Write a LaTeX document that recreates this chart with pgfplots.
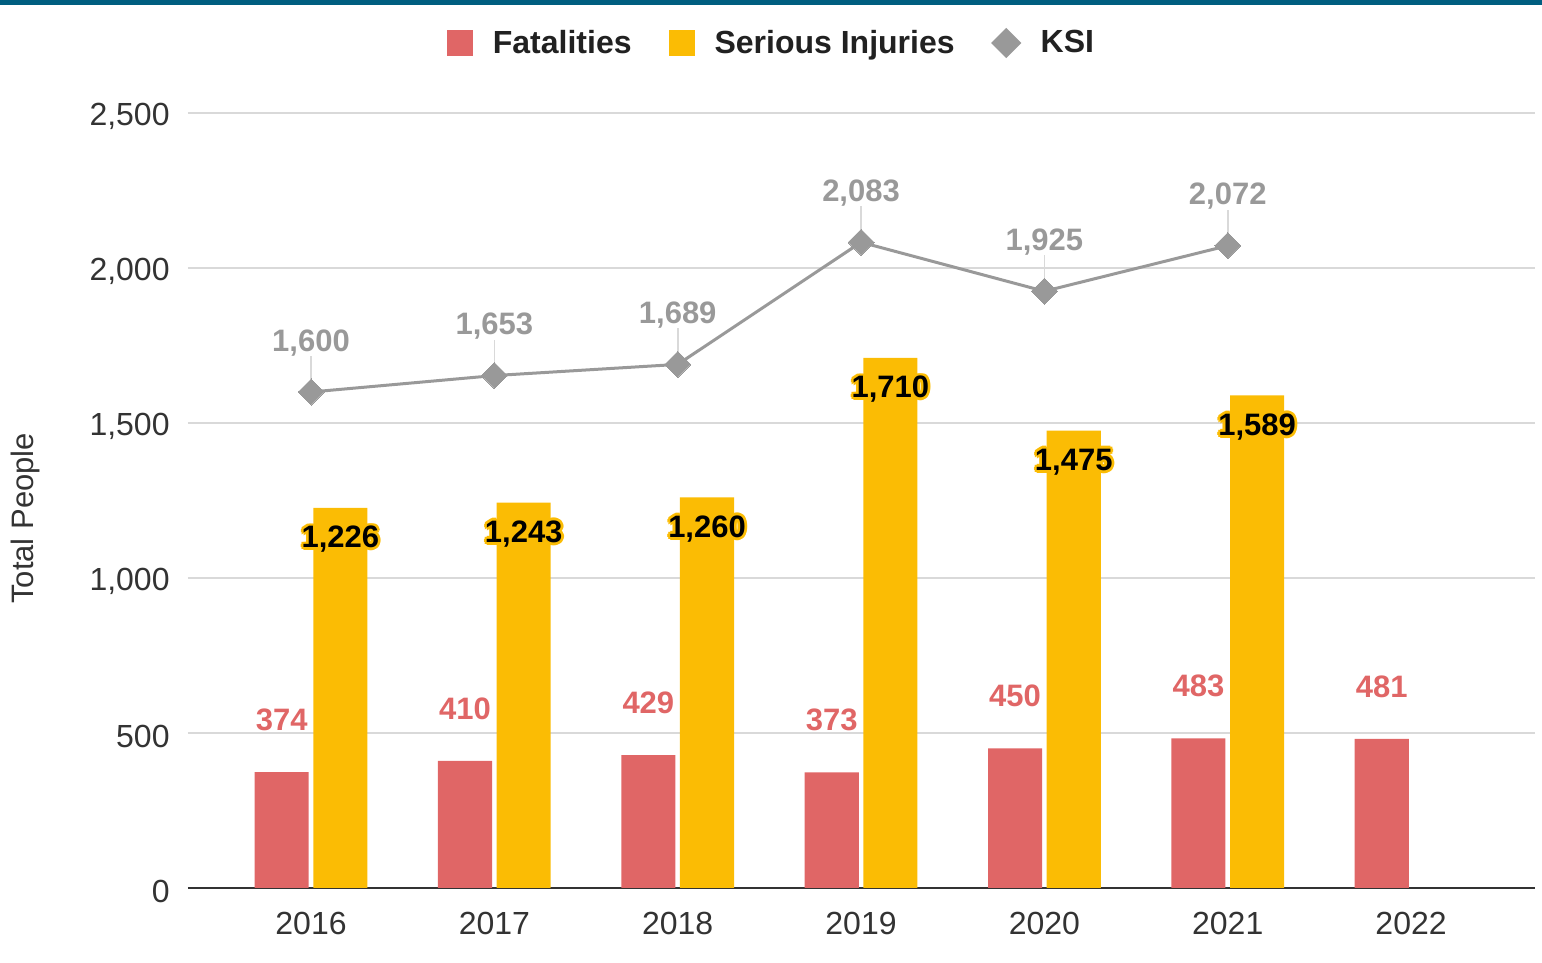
\documentclass[border=0pt]{standalone}
\usepackage{fontspec}
\setmainfont{Liberation Sans}
\usepackage{pgfplots}
\pgfplotsset{compat=1.18}
\definecolor{fred}{HTML}{E06666}
\definecolor{syel}{HTML}{FBBC04}
\definecolor{ksig}{HTML}{999999}
\definecolor{topbar}{HTML}{005E80}
\definecolor{gridc}{HTML}{D9D9D9}
\definecolor{txt}{HTML}{333333}
\newcommand{\lblfont}{\fontsize{15.5}{18}\selectfont\bfseries}
\newcommand{\hc}[3]{\rlap{\smash{\hspace*{#1}\raisebox{#2}{\usebox{#3}}}}}
\newsavebox\halobox
\newcommand{\halo}[1]{%
  \sbox\halobox{\textcolor{syel}{#1}}%
  \hc{1.4pt}{0pt}{\halobox}\hc{-1.4pt}{0pt}{\halobox}%
  \hc{0pt}{1.4pt}{\halobox}\hc{0pt}{-1.4pt}{\halobox}%
  \hc{1pt}{1pt}{\halobox}\hc{-1pt}{1pt}{\halobox}%
  \hc{1pt}{-1pt}{\halobox}\hc{-1pt}{-1pt}{\halobox}%
  #1}
\begin{document}
\begin{tikzpicture}
\useasboundingbox (-94pt,-37.5pt) rectangle (677pt,444pt);
\begin{axis}[
  at={(0,0)}, anchor=south west, scale only axis,
  width=673.5pt, height=387.5pt,
  xmin=-0.671, xmax=6.676, ymin=0, ymax=2500,
  xtick={0,1,2,3,4,5,6},
  xticklabels={2016,2017,2018,2019,2020,2021,2022},
  ytick={0,500,1000,1500,2000,2500},
  /pgf/number format/assume math mode=true,
  /pgf/number format/1000 sep={,},
  ymajorgrids, major grid style={draw=gridc, line width=1pt},
  axis x line*=bottom, axis y line*=left,
  y axis line style={draw=none},
  x axis line style={draw=txt, line width=1.2pt},
  major tick length=0pt, tick style={draw=none},
  ticklabel style={font=\fontsize{16}{19}\selectfont, text=txt},
  yticklabel style={inner sep=0pt, xshift=-9pt, yshift=-1.5pt},
  xticklabel style={inner sep=0pt, yshift=-12pt},
  ylabel={Total People},
  ylabel style={at={(axis description cs:-0.121,0.477)}, anchor=center,
    font=\fontsize{15.5}{18}\selectfont, text=txt},
  legend style={at={(axis description cs:0.4324,1.0903)}, anchor=center,
    draw=none, fill=none, legend columns=-1,
    font=\fontsize{16}{19}\selectfont\bfseries, text=black!87,
    /tikz/every odd column/.append style={column sep=10pt},
    /tikz/every even column/.append style={column sep=18.5pt},
    nodes={inner sep=0pt}},
]
\addplot[ybar, bar width=0.295, bar shift=-0.16, fill=fred, draw=none,
  nodes near coords,
  every node near coord/.append style={font=\lblfont, text=fred, anchor=south, inner sep=0pt, yshift=20.5pt, xshift=-14.67pt},
  legend image code/.code={\path[fill=fred] (0pt,-6.5pt) rectangle (13pt,6.5pt);}]
  coordinates {(0,374)(1,410)(2,429)(3,373)(4,450)(5,483)(6,481)};
\addlegendentry{Fatalities}
\addplot[ybar, bar width=0.295, bar shift=0.16, fill=syel, draw=none,
  nodes near coords={\halo{\pgfmathprintnumber{\pgfplotspointmeta}}},
  every node near coord/.append style={font=\lblfont, text=black, anchor=north, inner sep=0pt, yshift=-9pt, xshift=14.67pt},
  legend image code/.code={\path[fill=syel] (0pt,-6.5pt) rectangle (13pt,6.5pt);}]
  coordinates {(0,1226)(1,1243)(2,1260)(3,1710)(4,1475)(5,1589)};
\addlegendentry{Serious Injuries}
\addplot[draw=none, mark=none, forget plot,
  error bars/.cd, y dir=plus, y explicit, error mark=none,
  error bar style={draw=gridc, line width=0.8pt}]
  coordinates {(0,1600) +- (0,116) (1,1653) +- (0,116) (2,1689) +- (0,116)
               (3,2083) +- (0,116) (4,1925) +- (0,116) (5,2072) +- (0,116)};
\addplot[color=ksig, line width=1.5pt, mark=square*, mark size=4.6pt,
  mark options={rotate=45, solid, fill=ksig, draw=ksig, line width=0pt},
  nodes near coords,
  every node near coord/.append style={font=\lblfont, text=ksig, anchor=south, inner sep=0pt, yshift=18pt},
  legend image code/.code={\path[fill=ksig] (6.5pt,6.5pt) -- (13pt,0pt) -- (6.5pt,-6.5pt) -- (0pt,0pt) -- cycle;}]
  coordinates {(0,1600)(1,1653)(2,1689)(3,2083)(4,1925)(5,2072)};
\addlegendentry{KSI}
\end{axis}
\fill[topbar] (-94pt,441.5pt) rectangle (677pt,444pt);
\end{tikzpicture}
\end{document}
